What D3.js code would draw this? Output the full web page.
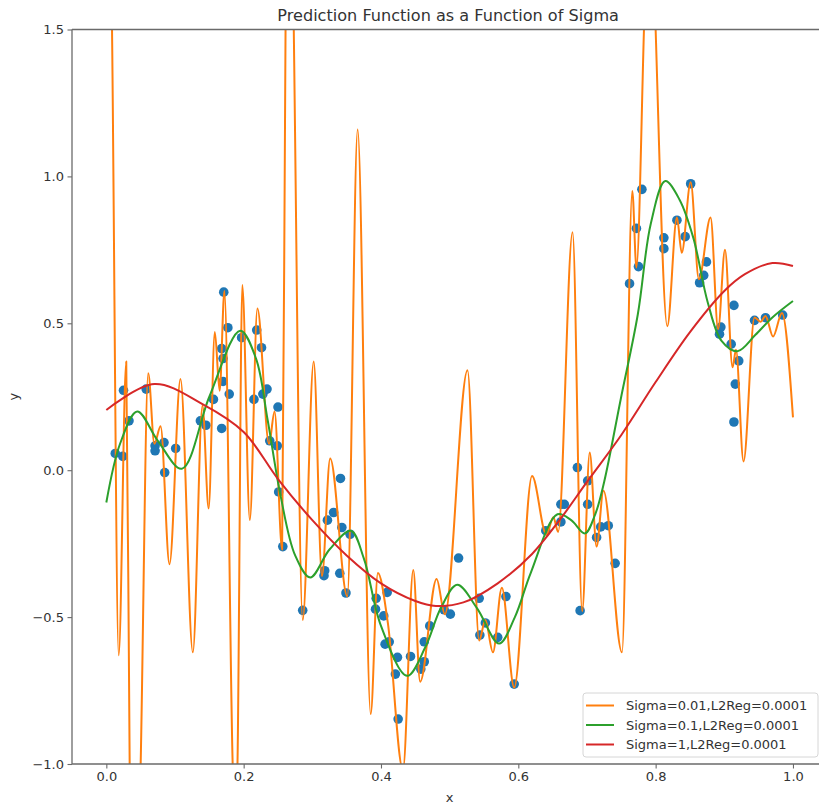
<!DOCTYPE html>
<html>
<head>
<meta charset="utf-8">
<script src="https://cdn.jsdelivr.net/npm/d3@7"></script>
<style>
  html, body { margin: 0; padding: 0; background: #fff; }
  svg { display: block; font-family: "DejaVu Sans", sans-serif; }
</style>
</head>
<body>
<svg id="chart" width="819" height="808"></svg>
<script>
// ---------- data ----------
const chartTitle = "Prediction Function as a Function of Sigma";
const xTicks = [0.0, 0.2, 0.4, 0.6, 0.8, 1.0];
const yTicks = [-1.0, -0.5, 0.0, 0.5, 1.0, 1.5];
const seriesNames = ["Sigma=0.01,L2Reg=0.0001", "Sigma=0.1,L2Reg=0.0001", "Sigma=1,L2Reg=0.0001"];

const pointX = [0.013,0.024,0.025,0.033,0.058,0.071,0.071,0.084,0.085,0.101,
  0.137,0.145,0.156,0.168,0.168,0.170,0.170,0.171,0.177,0.179,
  0.197,0.215,0.219,0.226,0.228,0.234,0.238,0.249,0.250,0.251,
  0.257,0.286,0.317,0.318,0.322,0.331,0.340,0.341,0.343,0.349,
  0.355,0.392,0.393,0.404,0.406,0.409,0.412,0.421,0.424,0.425,
  0.443,0.458,0.463,0.463,0.471,0.492,0.501,0.513,0.543,0.544,
  0.552,0.570,0.582,0.594,0.640,0.662,0.667,0.662,0.686,0.690,
  0.701,0.701,0.714,0.720,0.731,0.741,0.762,0.772,0.775,0.780,
  0.812,0.812,0.831,0.843,0.851,0.864,0.870,0.874,0.893,0.895,
  0.910,0.914,0.916,0.914,0.921,0.944,0.960,0.985];
const pointY = [0.057,0.047,0.272,0.168,0.276,0.083,0.066,0.094,-0.008,0.074,
  0.168,0.153,0.241,0.142,0.414,0.380,0.302,0.606,0.485,0.259,
  0.451,0.241,0.477,0.417,0.259,0.276,0.100,0.083,0.215,-0.074,
  -0.260,-0.477,-0.359,-0.342,-0.170,-0.144,-0.351,-0.028,-0.195,-0.418,
  -0.218,-0.473,-0.436,-0.496,-0.592,-0.416,-0.584,-0.694,-0.637,-0.847,
  -0.634,-0.677,-0.652,-0.584,-0.530,-0.475,-0.490,-0.299,-0.436,-0.561,
  -0.520,-0.569,-0.430,-0.728,-0.206,-0.116,-0.116,-0.176,0.009,-0.478,
  -0.036,-0.116,-0.229,-0.193,-0.189,-0.317,0.635,0.823,0.693,0.956,
  0.791,0.754,0.851,0.795,0.975,0.638,0.663,0.709,0.463,0.487,
  0.429,0.561,0.293,0.164,0.372,0.510,0.519,0.528];

// Sigma = 0.01 curve (read at its turning points)
const orangeX = [0.000,0.0083,0.018,0.029,0.034,0.042,0.050,0.061,0.070,0.079,
  0.092,0.108,0.126,0.140,0.149,0.158,0.165,0.172,0.184,0.1875,
  0.191,0.198,0.209,0.220,0.237,0.245,0.256,0.261,0.267,0.273,
  0.286,0.302,0.314,0.326,0.351,0.366,0.385,0.3955,0.410,0.432,
  0.447,0.457,0.481,0.493,0.526,0.543,0.552,0.563,0.576,0.594,
  0.620,0.641,0.651,0.658,0.679,0.693,0.704,0.714,0.724,0.751,
  0.766,0.772,0.783,0.7915,0.800,0.817,0.831,0.838,0.851,0.863,
  0.880,0.891,0.901,0.912,0.917,0.928,0.944,0.953,0.960,0.971,
  0.984,1.000];
const orangeY = [3.0,1.5,-0.63,0.37,-1.0,-1.8,-1.0,0.33,0.09,0.15,
  -0.32,0.31,-0.62,0.22,-0.13,0.47,0.27,0.61,-1.0,-1.25,
  -1.0,0.63,-0.17,0.55,0.09,0.20,-0.27,1.5,2.6,1.5,
  -0.51,0.37,-0.36,0.04,-0.43,1.16,-0.83,-0.35,-0.52,-1.02,
  -0.34,-0.72,-0.37,-0.49,0.34,-0.58,-0.51,-0.62,-0.40,-0.74,
  -0.02,-0.22,-0.16,-0.21,0.81,-0.48,0.06,-0.26,-0.07,-0.62,
  0.95,0.69,1.5,2.2,1.5,0.49,0.86,0.74,0.98,0.65,
  0.86,0.48,0.75,0.35,0.41,0.03,0.52,0.505,0.525,0.455,
  0.535,0.18];

// Sigma = 0.1 curve
const greenX = [0.000,0.020,0.045,0.075,0.110,0.150,0.195,0.218,0.235,0.254,
  0.275,0.297,0.325,0.356,0.375,0.400,0.438,0.465,0.487,0.511,
  0.540,0.572,0.595,0.618,0.657,0.677,0.697,0.712,0.725,0.749,
  0.774,0.793,0.814,0.835,0.855,0.876,0.896,0.919,0.945,0.970,1.000];
const greenY = [-0.11,0.09,0.20,0.10,0.005,0.25,0.475,0.38,0.17,-0.09,
  -0.29,-0.365,-0.27,-0.206,-0.30,-0.53,-0.70,-0.60,-0.47,-0.39,
  -0.47,-0.59,-0.50,-0.35,-0.15,-0.17,-0.215,-0.15,-0.04,0.24,
  0.53,0.84,0.984,0.92,0.79,0.57,0.44,0.405,0.46,0.52,0.576];

// Sigma = 1 curve
const redX = [0.00,0.07,0.14,0.20,0.25,0.30,0.35,0.40,0.45,0.48,0.52,
  0.57,0.62,0.66,0.70,0.75,0.80,0.85,0.90,0.93,0.97,1.00];
const redY = [0.205,0.293,0.225,0.13,-0.03,-0.17,-0.29,-0.385,-0.445,-0.462,-0.45,
  -0.385,-0.285,-0.17,-0.04,0.12,0.30,0.47,0.61,0.667,0.705,0.695];

const seriesColors = ["#ff7f0e", "#2ca02c", "#d62728"];
const pointColor = "#1f77b4";

// ---------- layout ----------
const svg = d3.select("#chart");
const L = 72, R = 827.3, T = 29.5, B = 764;
const x = d3.scaleLinear().domain([-0.05, 1.05]).range([L, R]);
const y = d3.scaleLinear().domain([-1.0, 1.5]).range([B, T]);
const fmt = d3.format(".1f");
const textColor = "#333";
const spineColor = "#6a6a6a";
const fs = 13;

svg.append("defs").append("clipPath").attr("id", "plotclip")
  .append("rect").attr("x", L).attr("y", T).attr("width", R - L).attr("height", B - T);

const plot = svg.append("g").attr("clip-path", "url(#plotclip)");

// scatter
plot.append("g").selectAll("circle")
  .data(pointX.map((v, i) => [v, pointY[i]]))
  .join("circle")
  .attr("cx", d => x(d[0])).attr("cy", d => y(d[1]))
  .attr("r", 4.8).attr("fill", pointColor);

// lines
function lineData(xs, ys) { return xs.map((v, i) => [v, ys[i]]); }
const series = [
  { data: lineData(orangeX, orangeY), curve: d3.curveMonotoneX },
  { data: lineData(greenX, greenY), curve: d3.curveCatmullRom.alpha(0.5) },
  { data: lineData(redX, redY), curve: d3.curveCatmullRom.alpha(0.5) }
];
series.forEach((s, i) => {
  const gen = d3.line().x(d => x(d[0])).y(d => y(d[1])).curve(s.curve);
  plot.append("path").attr("d", gen(s.data))
    .attr("fill", "none").attr("stroke", seriesColors[i])
    .attr("stroke-width", 2).attr("stroke-linejoin", "round");
});

// axes
const xAxis = svg.append("g").attr("transform", `translate(0,${B})`)
  .call(d3.axisBottom(x).tickValues(xTicks).tickFormat(fmt).tickSize(4.5).tickPadding(3.5));
const yAxis = svg.append("g").attr("transform", `translate(${L},0)`)
  .call(d3.axisLeft(y).tickValues(yTicks).tickFormat(fmt).tickSize(4.5).tickPadding(3.5));
[xAxis, yAxis].forEach(a => {
  a.select(".domain").remove();
  a.selectAll(".tick line").attr("stroke", spineColor).attr("stroke-width", 1.1);
  a.selectAll(".tick text").attr("fill", textColor)
    .attr("font-size", fs).attr("font-family", "DejaVu Sans");
});

// spines (left, top, bottom; right lies outside the window)
const sp = svg.append("g").attr("stroke", spineColor).attr("stroke-width", 1.3).attr("fill", "none");
sp.append("line").attr("x1", L).attr("x2", L).attr("y1", T).attr("y2", B);
sp.append("line").attr("x1", L).attr("x2", R).attr("y1", T).attr("y2", T);
sp.append("line").attr("x1", L).attr("x2", R).attr("y1", B).attr("y2", B);
sp.append("line").attr("x1", R).attr("x2", R).attr("y1", T).attr("y2", B);

// title & axis labels
svg.append("text").attr("x", (L + R) / 2 - 1.5).attr("y", 21).attr("text-anchor", "middle")
  .attr("font-size", 16.1).attr("fill", textColor).text(chartTitle);
svg.append("text").attr("x", (L + R) / 2).attr("y", 802).attr("text-anchor", "middle")
  .attr("font-size", fs).attr("fill", textColor).text("x");
svg.append("text").attr("transform", `translate(18,${(T + B) / 2}) rotate(-90)`)
  .attr("text-anchor", "middle").attr("font-size", fs).attr("fill", textColor).text("y");

// legend
const lg = svg.append("g").attr("transform", "translate(583,693)");
lg.append("rect").attr("x", 0).attr("y", 0).attr("width", 235).attr("height", 64)
  .attr("rx", 3).attr("fill", "#fff").attr("fill-opacity", 0.8)
  .attr("stroke", "#d6d6d6").attr("stroke-width", 1);
seriesNames.forEach((name, i) => {
  const yy = 12.5 + i * 19.5;
  lg.append("line").attr("x1", 3).attr("x2", 31).attr("y1", yy).attr("y2", yy)
    .attr("stroke", seriesColors[i]).attr("stroke-width", 2);
  lg.append("text").attr("x", 43).attr("y", yy).attr("dy", "0.35em")
    .attr("font-size", fs).attr("fill", textColor).text(name);
});
</script>
</body>
</html>
